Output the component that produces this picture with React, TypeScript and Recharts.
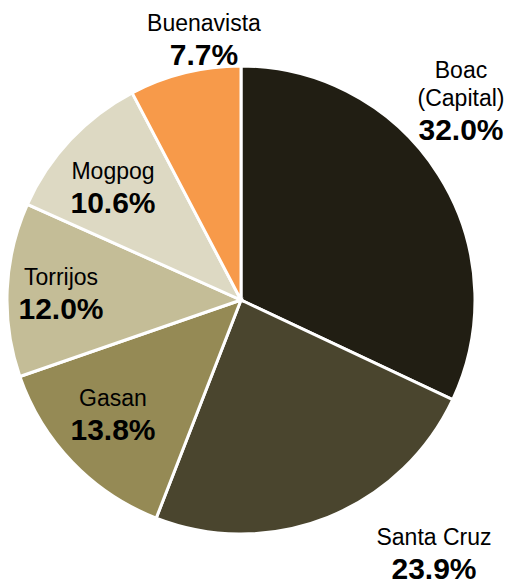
import { PieChart, Pie, Cell } from 'recharts';

const MUNICIPALITIES = ['Boac|(Capital)', 'Santa Cruz', 'Gasan', 'Torrijos', 'Mogpog', 'Buenavista'];
const SHARES = [32.0, 23.9, 13.8, 12.0, 10.6, 7.7];
const COLORS = ['#211e13', '#4a452e', '#958a55', '#c4bd97', '#ddd9c3', '#f79a4a'];

// where each label sits (percent baseline), relative to the pie centre
const LABEL_OFFSET: [number, number][] = [
  [220, -160],
  [193, 279],
  [-128, 140],
  [-180, 19],
  [-128, -87],
  [-37, -235],
];

const data = MUNICIPALITIES.map((name, i) => ({ name, value: SHARES[i] }));

const FONT = 'Liberation Sans, Arial, sans-serif';

function renderLabel(props: any) {
  const { cx, cy, index, name, value } = props;
  const [dx, dy] = LABEL_OFFSET[index];
  const x = cx + dx;
  const y = cy + dy;
  const lines = String(name).split('|');
  return (
    <g key={`lbl-${index}`}>
      {lines.map((line, i) => (
        <text
          key={i}
          x={x}
          y={y - 34 - (lines.length - 1 - i) * 28}
          textAnchor="middle"
          fontFamily={FONT}
          fontSize={23}
          fill="#000"
        >
          {line}
        </text>
      ))}
      <text x={x} y={y} textAnchor="middle" fontFamily={FONT} fontSize={30} fontWeight="bold" fill="#000">
        {value.toFixed(1)}%
      </text>
    </g>
  );
}

export default function App() {
  return (
    <div style={{ position: 'absolute', left: 0, top: 0, width: 510, height: 585, background: '#fff' }}>
      <PieChart width={510} height={585} margin={{ top: 0, right: 0, bottom: 0, left: 0 }}>
        <Pie
          data={data}
          dataKey="value"
          nameKey="name"
          cx={241}
          cy={300}
          outerRadius={234}
          startAngle={90}
          endAngle={-270}
          stroke="#ffffff"
          strokeWidth={3}
          label={renderLabel}
          labelLine={false}
          isAnimationActive={false}
        >
          {data.map((entry, index) => (
            <Cell key={`cell-${index}`} fill={COLORS[index]} />
          ))}
        </Pie>
      </PieChart>
    </div>
  );
}
